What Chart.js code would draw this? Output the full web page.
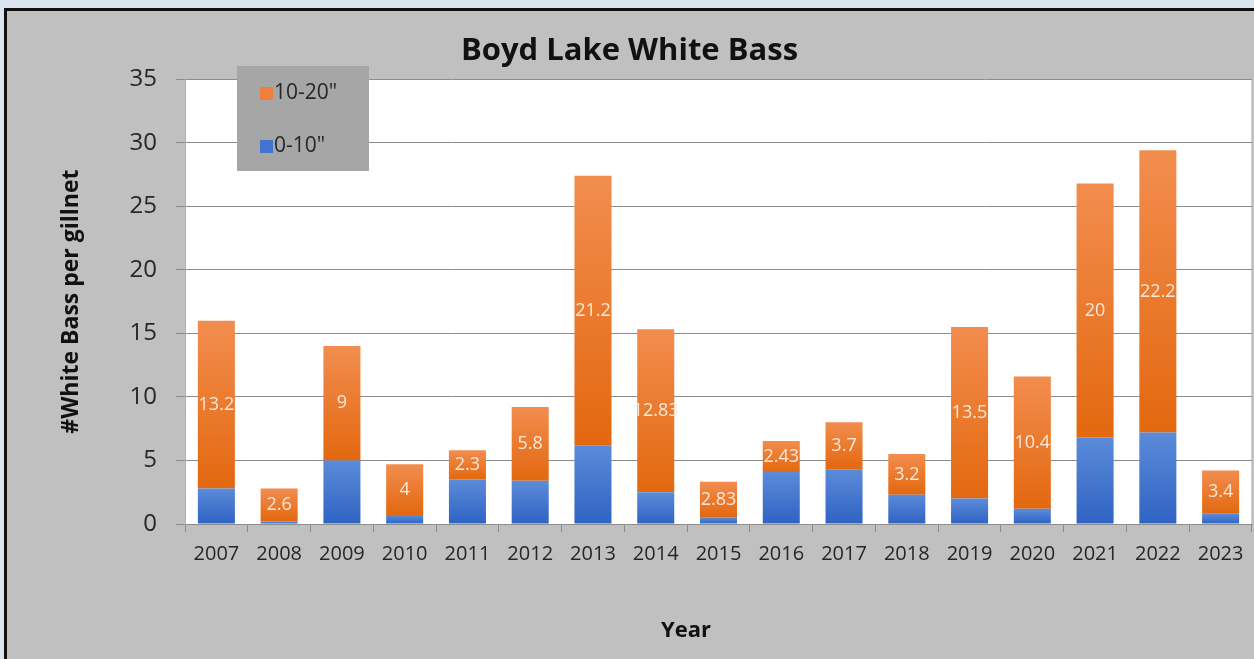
<!DOCTYPE html>
<html>
<head>
<meta charset="utf-8">
<script src="https://cdn.jsdelivr.net/npm/chart.js@4.4.1/dist/chart.umd.min.js"></script>
<style>
  html, body { margin: 0; padding: 0; background: #dbe5f1; overflow: hidden; }
  #frame {
    position: absolute; left: 4px; top: 8px;
    width: 1300px; height: 700px;
    border: 3px solid #111; background: #c0c0c0;
  }
  #wrap { position: absolute; left: 0; top: 0; width: 1247px; height: 648px; }
</style>
</head>
<body>
<div id="frame"><div id="wrap"><canvas id="chart"></canvas></div></div>
<script>
const years = ["2007", "2008", "2009", "2010", "2011", "2012", "2013", "2014", "2015",
  "2016", "2017", "2018", "2019", "2020", "2021", "2022", "2023"];
// 0-10" fish (blue, bottom of stack)
const small = [2.8, 0.2, 5.0, 0.7, 3.5, 3.4, 6.2, 2.5, 0.5, 4.1, 4.3, 2.3, 2.0, 1.2, 6.8, 7.2, 0.8];
// 10-20" fish (orange, labelled)
const large = [13.2, 2.6, 9, 4, 2.3, 5.8, 21.2, 12.83, 2.83, 2.43, 3.7, 3.2, 13.5, 10.4, 20, 22.2, 3.4];
const yTicks = [0, 5, 10, 15, 20, 25, 30, 35];

const font = "'Open Sans', 'Liberation Sans', sans-serif";
const textColor = "#262626";

// vertical gradient per bar, like the Excel fill
function barFill(top, bottom) {
  return (ctx) => {
    if (ctx.type !== "data") return bottom;
    const chart = ctx.chart;
    const y = chart.scales.y;
    if (!y) return bottom;
    const i = ctx.dataIndex;
    let lo = 0, hi = small[i];
    if (ctx.datasetIndex === 1) { lo = small[i]; hi = small[i] + large[i]; }
    const y0 = y.getPixelForValue(hi);
    const y1 = y.getPixelForValue(lo);
    if (!isFinite(y0) || !isFinite(y1) || y0 === y1) return bottom;
    const g = chart.ctx.createLinearGradient(0, y0, 0, y1);
    g.addColorStop(0, top);
    g.addColorStop(1, bottom);
    return g;
  };
}

const plotBg = {
  id: "plotBg",
  beforeDraw(chart) {
    const a = chart.chartArea;
    const c = chart.ctx;
    c.save();
    c.fillStyle = "#ffffff";
    c.fillRect(a.left, a.top, a.right - a.left, a.bottom - a.top);
    c.strokeStyle = "#d0d0d0";
    c.lineWidth = 1;
    c.beginPath();
    c.moveTo(a.right - 0.5, a.top);
    c.lineTo(a.right - 0.5, a.bottom);
    c.stroke();
    c.restore();
  }
};

const barLabels = {
  id: "barLabels",
  afterDatasetsDraw(chart) {
    const c = chart.ctx;
    const meta = chart.getDatasetMeta(1);
    c.save();
    c.font = "18px " + font;
    c.fillStyle = "#fde9d9";
    c.textAlign = "center";
    c.textBaseline = "middle";
    meta.data.forEach((el, i) => {
      c.fillText(String(large[i]), el.x, (el.y + el.base) / 2);
    });
    c.restore();
  }
};

// legend box sitting over the plot, plus the x axis title (sits left of plot centre)
const extras = {
  id: "extras",
  afterDraw(chart) {
    const c = chart.ctx;
    const x = 230, y = 55;
    c.save();
    c.fillStyle = "#a6a6a6";
    c.fillRect(x, y, 132, 105);
    const items = [["10-20\"", "#ef7f3a"], ["0-10\"", "#4173cf"]];
    c.font = "21px " + font;
    c.textBaseline = "middle";
    items.forEach((it, k) => {
      const cy = y + 27 + k * 53;
      c.fillStyle = it[1];
      c.fillRect(x + 23, cy - 6, 13, 13);
      c.fillStyle = textColor;
      c.fillText(it[0], x + 37, cy);
    });
    c.font = "bold 22px " + font;
    c.fillStyle = "#111111";
    c.textAlign = "center";
    c.fillText("Year", 679, 620);
    c.restore();
  }
};

new Chart(document.getElementById("chart"), {
  type: "bar",
  data: {
    labels: years,
    datasets: [
      {
        label: "0-10\"",
        data: small,
        backgroundColor: barFill("#5b8bd9", "#2f63c3"),
        borderWidth: 0,
        barPercentage: 0.59,
        categoryPercentage: 1.0,
      },
      {
        label: "10-20\"",
        data: large,
        backgroundColor: barFill("#f28d4f", "#e3680f"),
        borderWidth: 0,
        barPercentage: 0.59,
        categoryPercentage: 1.0,
      },
    ],
  },
  options: {
    responsive: true,
    maintainAspectRatio: false,
    animation: false,
    layout: { padding: { left: 0, right: 2, top: 0, bottom: 83 } },
    plugins: {
      legend: { display: false },
      tooltip: { enabled: false },
      title: {
        display: true,
        text: "Boyd Lake White Bass",
        color: "#111111",
        font: { family: font, size: 31, weight: "bold" },
        padding: { top: 22, bottom: 9 },
      },
    },
    scales: {
      x: {
        stacked: true,
        grid: {
          offset: true,
          drawOnChartArea: false,
          tickLength: 8,
          color: "#8c8c8c",
        },
        border: { color: "#8c8c8c" },
        ticks: { color: textColor, font: { family: font, size: 20 }, padding: 10, maxRotation: 0 },
      },
      y: {
        stacked: true,
        min: 0,
        max: 35,
        afterBuildTicks(scale) {
          scale.ticks = yTicks.map((v) => ({ value: v }));
        },
        afterFit(scale) { scale.width = 178; },
        grid: { color: "#8c8c8c", tickLength: 9 },
        border: { color: "#b0b0b0" },
        ticks: { color: textColor, font: { family: font, size: 24 }, padding: 19 },
        title: {
          display: true,
          text: "#White Bass per gillnet",
          color: "#111111",
          font: { family: font, size: 23, weight: "bold" },
          padding: { top: 51, bottom: 0 },
        },
      },
    },
  },
  plugins: [plotBg, barLabels, extras],
});
</script>
</body>
</html>
